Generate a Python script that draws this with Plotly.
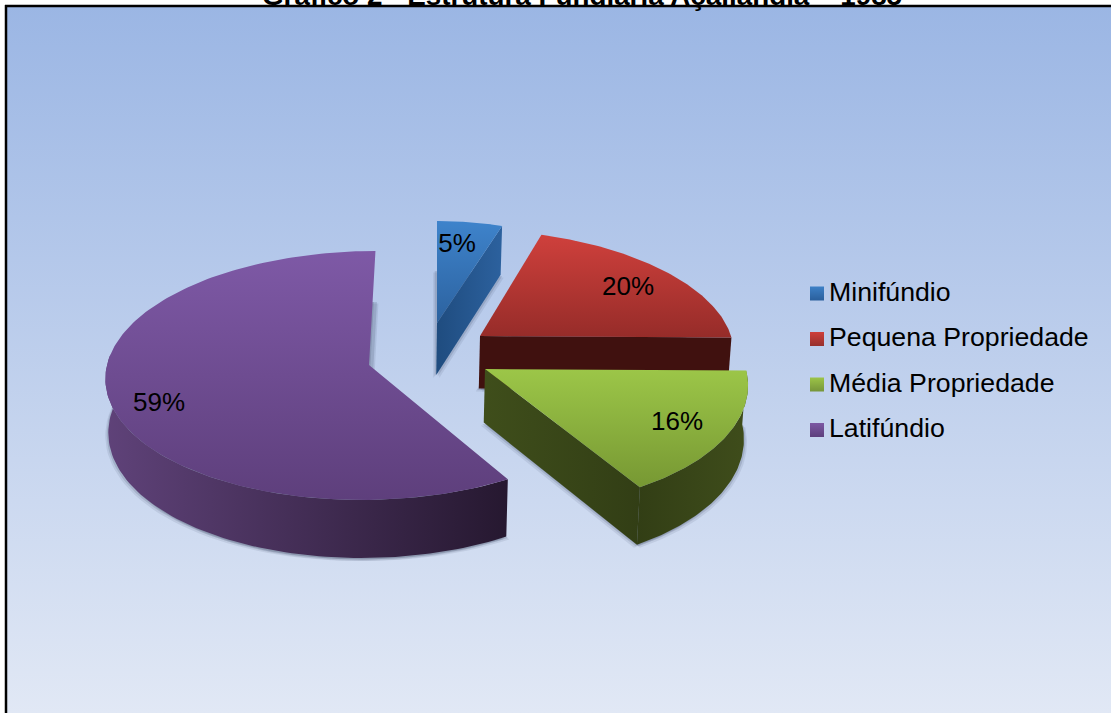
import numpy as np
import plotly.graph_objects as go

categories = ["Minifúndio", "Pequena Propriedade", "Média Propriedade", "Latifúndio"]
shares = [5.2, 20.0, 16.2, 58.6]
title_text = "Gráfico 2 - Estrutura Fundiária Açailândia – 1985"

W, H = 1111, 713
# apex on screen, horizontal/vertical radii, perspective, shear
GEOM = [
    dict(ax=437, ay=323, A=219, B=110.6, k=0.0843, s=0),
    dict(ax=480, ay=336, A=251, B=115.5, k=0.0843, s=15),
    dict(ax=485, ay=369, A=261, B=127.8, k=0.0843, s=11),
    dict(ax=369, ay=365, A=262, B=123.6, k=0.0843, s=-7),
]
TOP = [("#2C629F", "#3E83CB"), ("#962C29", "#CF403C"), ("#779833", "#9CC648"), ("#5E3F7C", "#7E59A6")]
LEG = [("#3D80C6", "#2A5F9C"), ("#CE3F3B", "#96302D"), ("#9CC447", "#76953A"), ("#7C58A3", "#5D3F7C")]
LABEL_XY = [(457, 245), (628, 288), (677, 423), (159, 404)]
LEGEND_X, LEGEND_TX, LEGEND_Y, LEGEND_DY = 817, 829, 293.5, 45.5
LEGEND_TEXT_Y = 294

cum = np.cumsum([0] + shares) / sum(shares) * 360


def arc(g, t0, t1, n=90):
    th = np.radians(np.linspace(t0, t1, n))
    u, v = np.sin(th), -np.cos(th)
    d = 1 - g["k"] * v
    return g["ax"] + (g["A"] * u + g["s"] * v) / d, g["ay"] + g["B"] * v / d


def lower(x, y):
    x, y = np.asarray(x, float), np.asarray(y, float)
    return x - (x - 370) * 0.011, y + 52 + (y - 323) * 0.034


def poly(x, y, fill=None, grad=None, name=None):
    kw = dict(x=list(x) + [x[0]], y=list(y) + [y[0]], mode="lines", fill="toself",
              line=dict(width=0), hoverinfo="skip", showlegend=False)
    if name:
        kw["name"] = name
    if grad:
        kw["fillgradient"] = dict(type=grad[0], colorscale=[[0, grad[1]], [1, grad[2]]])
        kw["fillcolor"] = grad[1]
    else:
        kw["fillcolor"] = fill
    return go.Scatter(**kw)


def wall(xa, ya, grad=None, fill=None):
    xb, yb = lower(xa, ya)
    return poly(np.r_[xa, xb[::-1]], np.r_[ya, yb[::-1]], fill=fill, grad=grad)


fig = go.Figure()

# background panel
fig.add_trace(poly([6, W, W, 6], [6, 6, H, H], grad=("vertical", "#E1E8F5", "#9BB6E4")))

# soft shadows under each slice
for i, g in enumerate(GEOM):
    xa, ya = arc(g, cum[i], cum[i + 1])
    xb, yb = lower(np.r_[g["ax"], xa], np.r_[g["ay"], ya])
    for dx, dy, a in ((-3, 3, 0.10), (3, 3, 0.10), (-1.5, 1.5, 0.16), (1.5, 1.5, 0.16)):
        fig.add_trace(poly(xb + dx, yb + dy, fill=f"rgba(50,60,85,{a})"))

# Minifúndio
g = GEOM[0]
xa, ya = arc(g, cum[1], cum[1], 1)
fig.add_trace(wall(np.array([g["ax"], xa[0]]), np.array([g["ay"], ya[0]]),
                   grad=("horizontal", "#1F4C7F", "#2C619E")))
xa, ya = arc(g, cum[0], cum[1])
fig.add_trace(poly(np.r_[g["ax"], xa], np.r_[g["ay"], ya], grad=("vertical", *TOP[0]), name=categories[0]))

# Pequena Propriedade
g = GEOM[1]
xa, ya = arc(g, cum[2], cum[2], 1)
fig.add_trace(wall(np.array([g["ax"], xa[0]]), np.array([g["ay"], ya[0]]), fill="#40110F"))
xa, ya = arc(g, cum[1], cum[2])
fig.add_trace(poly(np.r_[g["ax"], xa], np.r_[g["ay"], ya], grad=("vertical", *TOP[1]), name=categories[1]))

# Média Propriedade
g = GEOM[2]
xa, ya = arc(g, cum[2], cum[3])
fig.add_trace(wall(xa, ya, grad=("horizontal", "#323E15", "#3F4D1B")))
fig.add_trace(wall(np.array([g["ax"], xa[-1]]), np.array([g["ay"], ya[-1]]),
                   grad=("horizontal", "#3F4E1B", "#323E15")))
fig.add_trace(poly(np.r_[g["ax"], xa], np.r_[g["ay"], ya], grad=("vertical", *TOP[2]), name=categories[2]))

# Latifúndio
g = GEOM[3]
xa, ya = arc(g, cum[3], 275)
fig.add_trace(wall(xa, ya, grad=("horizontal", "#5F4279", "#261830")))
xa, ya = arc(g, cum[3], cum[4], 180)
fig.add_trace(poly(np.r_[g["ax"], xa], np.r_[g["ay"], ya], grad=("vertical", *TOP[3]), name=categories[3]))

# value labels
for i, c in enumerate(categories):
    fig.add_trace(go.Scatter(
        x=[LABEL_XY[i][0]], y=[LABEL_XY[i][1]], mode="text",
        text=[f"{round(shares[i] / sum(shares) * 100)}%"], name=c,
        textfont=dict(family="Liberation Sans", size=26, color="#000000"),
        textposition="middle center", hoverinfo="skip", showlegend=False))

# legend
for i, c in enumerate(categories):
    fig.add_trace(go.Scatter(
        x=[LEGEND_X], y=[LEGEND_Y + i * LEGEND_DY], mode="markers", name=c,
        marker=dict(symbol="square", size=14, color=LEG[i][0], line=dict(width=0),
                    gradient=dict(type="vertical", color=LEG[i][1])),
        hoverinfo="skip", showlegend=False))
    fig.add_trace(go.Scatter(
        x=[LEGEND_TX], y=[LEGEND_TEXT_Y + i * LEGEND_DY], mode="text", text=[c], name=c,
        textposition="middle right",
        textfont=dict(family="Liberation Sans", size=26.7, color="#000000"),
        hoverinfo="skip", showlegend=False))

fig.update_layout(
    width=W, height=H, margin=dict(l=0, r=0, t=0, b=0), autosize=False,
    paper_bgcolor="#FFFFFF", plot_bgcolor="#FFFFFF", showlegend=False,
    xaxis=dict(range=[0, W], visible=False, fixedrange=True),
    yaxis=dict(range=[H, 0], visible=False, fixedrange=True),
    shapes=[
        dict(type="line", xref="x", yref="y", x0=6, x1=6, y0=5, y1=H, line=dict(color="#000000", width=2.5)),
        dict(type="line", xref="x", yref="y", x0=5, x1=W, y0=6, y1=6, line=dict(color="#000000", width=2.5)),
    ],
    annotations=[dict(x=582, y=1, xref="x", yref="paper", text=f"<b>{title_text}</b>", showarrow=False,
                      yanchor="middle", yshift=5, font=dict(family="Liberation Sans", size=27.8, color="#000000"))],
)
fig.write_html("out.html", config={"displayModeBar": False},
               post_script="document.documentElement.style.overflow='hidden';document.body.style.margin='0';")
